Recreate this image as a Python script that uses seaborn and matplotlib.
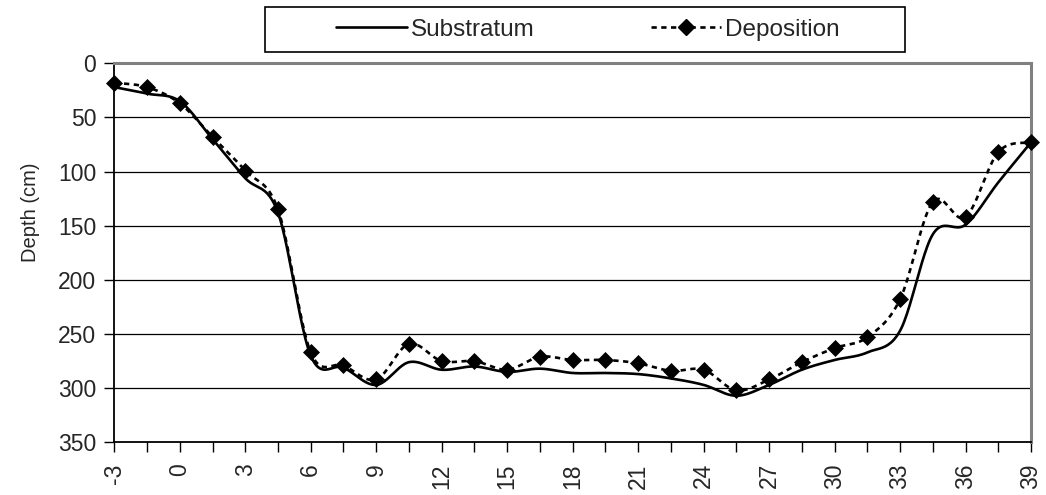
import numpy as np
import pandas as pd
import matplotlib
matplotlib.use("Agg")
import matplotlib.pyplot as plt
import seaborn as sns
from matplotlib.lines import Line2D
from matplotlib.patches import Rectangle
from matplotlib.ticker import FuncFormatter

# ---- data ----
distance = [-3, -1.5, 0, 1.5, 3, 4.5, 6, 7.5, 9, 10.5, 12, 13.5, 15, 16.5, 18,
            19.5, 21, 22.5, 24, 25.5, 27, 28.5, 30, 31.5, 33, 34.5, 36, 37.5, 39]
substratum = [22, 28, 35, 70, 106, 138, 270, 281, 297, 276, 283, 280, 285, 282, 286,
              286, 287, 291, 297, 307, 297, 283, 274, 267, 247, 158, 149, 110, 73]
deposition = [18, 22, 37, 68, 99, 135, 267, 279, 292, 259, 275, 275, 283, 271, 274,
              274, 277, 284, 283, 302, 292, 276, 263, 253, 218, 128, 142, 82, 73]
x_ticks = [-3, 0, 3, 6, 9, 12, 15, 18, 21, 24, 27, 30, 33, 36, 39]
y_ticks = [0, 50, 100, 150, 200, 250, 300, 350]


def smooth(xs, ys, n=24):
    """Excel-style smoothed line (Catmull-Rom / Bezier) through the given points."""
    P = np.column_stack([xs, ys]).astype(float)
    P = np.vstack([P[0], P, P[-1]])
    out = []
    t = np.linspace(0, 1, n, endpoint=False)[:, None]
    for i in range(1, len(P) - 2):
        p0, p1, p2, p3 = P[i - 1], P[i], P[i + 1], P[i + 2]
        c1 = p1 + (p2 - p0) / 6.0
        c2 = p2 - (p3 - p1) / 6.0
        seg = ((1 - t) ** 3) * p1 + 3 * ((1 - t) ** 2) * t * c1 + 3 * (1 - t) * t ** 2 * c2 + t ** 3 * p2
        out.append(seg)
    out.append(P[-2][None, :])
    arr = np.vstack(out)
    return arr[:, 0], arr[:, 1]


sns.set_theme(style="white")
plt.rcParams['font.family'] = ['Liberation Sans', 'DejaVu Sans']

W, H = 1046, 495
fig = plt.figure(figsize=(W / 100, H / 100), dpi=100)
ax = fig.add_axes([114.3 / W, 1 - 442.3 / H, (1031 - 114.3) / W, (442.3 - 63.3) / H])

sx, sy = smooth(distance, substratum)
dx, dy = smooth(distance, deposition)
sub_df = pd.DataFrame({"x": sx, "y": sy})
dep_df = pd.DataFrame({"x": dx, "y": dy})
pts_df = pd.DataFrame({"x": distance, "y": deposition})

for yv in y_ticks[1:-1]:
    ax.axhline(yv, color="black", lw=0.9, zorder=1)

DASH = (2.0, 1.7)
sns.lineplot(data=sub_df, x="x", y="y", sort=False, ax=ax, color="black", lw=1.9, zorder=3)
sns.lineplot(data=dep_df, x="x", y="y", sort=False, ax=ax, color="black", lw=1.9,
             zorder=3).lines[-1].set_dashes(DASH)
ax.plot(pts_df["x"], pts_df["y"], linestyle="none", marker="D", markersize=7.8,
        color="black", markeredgewidth=0.5, zorder=4, clip_on=False)

ax.set_xlim(-3, 39)
ax.set_ylim(350, 0)
ax.set_yticks(y_ticks)
ax.set_xticks(np.arange(-3, 39.01, 1.5))
ax.xaxis.set_major_formatter(FuncFormatter(
    lambda v, p: f"{int(round(v))}" if int(round(v)) in x_ticks and abs(v - round(v)) < 1e-6 else ""))
ax.tick_params(axis="x", direction="out", length=7, width=1, color="black",
               labelsize=16.5, rotation=90, pad=8, bottom=True)
ax.tick_params(axis="y", direction="out", length=7, width=1, color="black",
               labelsize=16.5, pad=6, left=True)
ax.set_xlabel("")
ax.set_ylabel("Depth (cm)", fontsize=14.5)
ax.yaxis.set_label_coords((30 - 114.3) / (1031 - 114.3), (442.3 - 212) / (442.3 - 63.3))
ax.yaxis.label.set_va("center")
ax.grid(False)

for side in ["left", "bottom"]:
    ax.spines[side].set_color("black")
    ax.spines[side].set_linewidth(1.3)
for side in ["top", "right"]:
    ax.spines[side].set_color("#808080")
    ax.spines[side].set_linewidth(2.2)

# legend frame (Excel-style wide box) and entries
fig.patches.append(Rectangle((265 / W, 1 - 52 / H), (905 - 265) / W, 45 / H,
                             transform=fig.transFigure, facecolor="white",
                             edgecolor="black", lw=1.2, zorder=5))
handles = [
    Line2D([], [], color="black", lw=1.9),
    Line2D([], [], color="black", lw=1.9, dashes=DASH, marker="D", markersize=7.8),
]
leg = fig.legend(handles, ["Substratum", "Deposition"], loc="center",
                 bbox_to_anchor=(588 / W, 1 - 29.5 / H), ncol=2, fontsize=17.5,
                 frameon=False, handlelength=2.9, handletextpad=0.15,
                 columnspacing=4.8, borderpad=0.3, borderaxespad=0)
leg.set_zorder(6)

fig.savefig("out.png", dpi=100, facecolor="white")
